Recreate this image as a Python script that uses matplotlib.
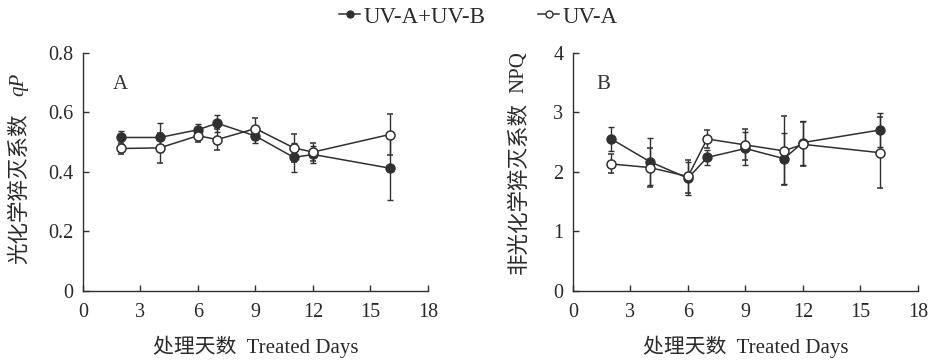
import matplotlib
matplotlib.use("Agg")
import matplotlib.pyplot as plt
from matplotlib.lines import Line2D

plt.rcParams['font.family'] = ['Liberation Serif', 'Noto Sans CJK SC']

days = [2, 4, 6, 7, 9, 11, 12, 16]
qp_ab = [0.515, 0.515, 0.541, 0.563, 0.52, 0.448, 0.458, 0.412]
qp_ab_err = [0.021, 0.05, 0.02, 0.028, 0.022, 0.05, 0.03, 0.108]
qp_a = [0.478, 0.48, 0.521, 0.508, 0.545, 0.48, 0.466, 0.525]
qp_a_err = [0.02, 0.05, 0.02, 0.035, 0.035, 0.048, 0.03, 0.069]
npq_ab = [2.55, 2.17, 1.89, 2.24, 2.39, 2.22, 2.49, 2.70]
npq_ab_err = [0.2, 0.4, 0.28, 0.12, 0.27, 0.43, 0.37, 0.29]
npq_a = [2.13, 2.07, 1.92, 2.55, 2.45, 2.35, 2.46, 2.32]
npq_a_err = [0.16, 0.32, 0.28, 0.15, 0.26, 0.58, 0.37, 0.6]

xticks = [0, 3, 6, 9, 12, 15, 18]
col = '#303030'
tcol = '#2a2a2a'

fig = plt.figure(figsize=(9.29, 3.6), dpi=100)
W, H = 929, 360
axA = fig.add_axes([83 / W, 1 - 290.7 / H, 345 / W, 238 / H])
axB = fig.add_axes([573 / W, 1 - 290.7 / H, 345 / W, 238 / H])

def draw(ax, y1, e1, y2, e2, ylim, yticks, letter, lx):
    ax.errorbar(days, y1, yerr=e1, color=col, marker='o', ms=6.5, mfc=col, mec=col,
                lw=1.1, elinewidth=1.0, capsize=2.5, capthick=1.0)
    ax.errorbar(days, y2, yerr=e2, color=col, marker='o', ms=6.5, mfc='white', mec=col,
                mew=1.1, lw=1.1, elinewidth=1.0, capsize=2.5, capthick=1.0)
    ax.set_xlim(0, 18)
    ax.set_ylim(*ylim)
    ax.set_xticks(xticks)
    ax.set_yticks(yticks)
    ax.spines['top'].set_visible(False)
    ax.spines['right'].set_visible(False)
    for s in ('left', 'bottom'):
        ax.spines[s].set_color(col)
        ax.spines[s].set_linewidth(1.0)
    ax.tick_params(direction='in', length=4, width=1.0, colors=col, labelsize=14.5,
                   labelcolor=tcol, pad=7)
    ax.tick_params(axis='x', pad=9)
    ax.set_xlabel('处理天数  Treated Days', fontsize=15, color=tcol, labelpad=10)
    ax.text(lx, 0.868, letter, transform=ax.transAxes, fontsize=15, color='#333333',
            ha='left', va='center')

draw(axA, qp_ab, qp_ab_err, qp_a, qp_a_err, (0, 0.8), [0, 0.2, 0.4, 0.6, 0.8], 'A', 0.087)
axA.set_yticklabels(['0', '0.2', '0.4', '0.6', '0.8'])
draw(axB, npq_ab, npq_ab_err, npq_a, npq_a_err, (0, 4), [0, 1, 2, 3, 4], 'B', 0.067)

# y-axis labels: Chinese part + symbol
def ylab(xpx, cn, cy, csize, sym, sy, style):
    fig.text(xpx / W, 1 - cy / H, cn, rotation=90, fontsize=csize, color=tcol,
             ha='center', va='center', family=['Noto Sans CJK SC'])
    fig.text(xpx / W, 1 - sy / H, sym, rotation=90, fontsize=15, color=tcol,
             ha='center', va='center', style=style, family=['Liberation Serif'])

ylab(19, '光化学猝灭系数', 189, 15.5, 'qP', 84, 'italic')
ylab(519, '非光化学猝灭系数', 188, 15.5, 'NPQ', 72, 'normal')

l1 = Line2D([], [], color=col, marker='o', ms=5, mfc=col, lw=1.1)
l2 = Line2D([], [], color=col, marker='o', ms=5, mfc='white', lw=1.1)
fig.legend([l1, l2], ['UV-A+UV-B', 'UV-A'], loc='center', bbox_to_anchor=(0.515, 1 - 17 / H),
           ncol=2, frameon=False, fontsize=16.5, handlelength=0.9, handletextpad=0.15,
           columnspacing=2.3, labelcolor=tcol)

fig.savefig('out.png', dpi=100)
